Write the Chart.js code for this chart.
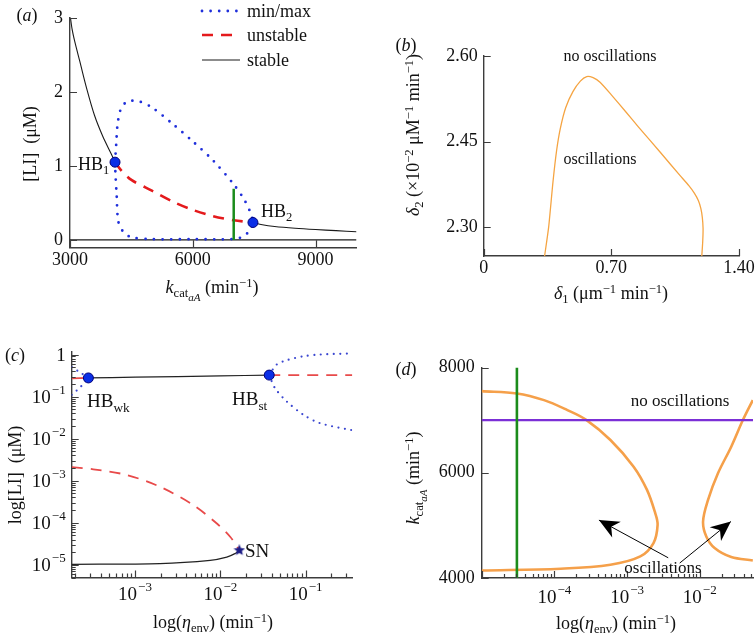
<!DOCTYPE html>
<html><head><meta charset="utf-8">
<script src="https://cdn.jsdelivr.net/npm/chart.js@4.4.1/dist/chart.umd.min.js"></script>
<style>
html,body{margin:0;padding:0;background:#fff;}
#wrap{position:relative;width:756px;height:642px;overflow:hidden;font-family:'Liberation Serif','Times New Roman',serif;color:#111;}
canvas{position:absolute;left:0;top:0;}
.t{position:absolute;white-space:nowrap;transform:translate(-50%,-50%);font-size:18px;line-height:1;}
.l{position:absolute;white-space:nowrap;transform:translate(0,-50%);font-size:18px;line-height:1;}
.r{transform:translate(-50%,-50%) rotate(-90deg);}
sub,sup{font-size:70%;line-height:0;position:relative;vertical-align:baseline;}
sub{top:0.35em;} sup{top:-0.5em;}
sub sub{font-size:88%;top:0.3em;}
</style></head>
<body><div id="wrap">
<canvas id="cA" width="756" height="642"></canvas>
<canvas id="cB" width="756" height="642"></canvas>
<canvas id="cC" width="756" height="642"></canvas>
<canvas id="cD" width="756" height="642"></canvas>

<div class="t" style="left:27px;top:15px">(<i>a</i>)</div>
<div class="t" style="left:406px;top:45px">(<i>b</i>)</div>
<div class="t" style="left:15px;top:355px">(<i>c</i>)</div>
<div class="t" style="left:406px;top:369px">(<i>d</i>)</div>

<div class="t r" style="left:30px;top:144px">[LI]&nbsp; (μM)</div>
<div class="t" style="left:212px;top:287px"><i>k</i><sub>cat<sub><i>aA</i></sub></sub> (min<sup>−1</sup>)</div>
<div class="l" style="left:78px;top:164px">HB<sub>1</sub></div>
<div class="l" style="left:261px;top:211px">HB<sub>2</sub></div>

<div class="t r" style="left:413px;top:135px"><i>δ</i><sub>2</sub> (×10<sup>−2</sup> μM<sup>−1</sup> min<sup>−1</sup>)</div>
<div class="t" style="left:611px;top:293px"><i>δ</i><sub>1</sub> (μm<sup>−1</sup> min<sup>−1</sup>)</div>
<div class="t" style="left:610px;top:56px;font-size:16px">no oscillations</div>
<div class="t" style="left:600px;top:159px;font-size:16px">oscillations</div>

<div class="t r" style="left:15px;top:475px">log[LI]&nbsp; (μM)</div>
<div class="t" style="left:213px;top:622px">log(<i>η</i><sub>env</sub>) (min<sup>−1</sup>)</div>
<div class="l" style="left:87px;top:400px;font-size:19px">HB<sub>wk</sub></div>
<div class="l" style="left:232px;top:398px;font-size:19px">HB<sub>st</sub></div>
<div class="l" style="left:245px;top:550px;font-size:19px">SN</div>

<div class="t r" style="left:413px;top:478px"><i>k</i><sub>cat<sub><i>aA</i></sub></sub> (min<sup>−1</sup>)</div>
<div class="t" style="left:616px;top:623px">log(<i>η</i><sub>env</sub>) (min<sup>−1</sup>)</div>
<div class="t" style="left:680px;top:400px;font-size:17px">no oscillations</div>
<div class="t" style="left:663px;top:567px;font-size:17px">oscillations</div>
</div>
<script>
// ================= DATA =================
// (a) bifurcation in k_cat_aA
const A_X_TICKS = [3000, 6000, 9000];
const A_X_LABELS = ['3000', '6000', '9000'];
const A_Y_TICKS = [0, 1, 2, 3];
const A_Y_LABELS = ['0', '1', '2', '3'];
const A_STABLE_LEFT = [[3000,3.05],[3050,2.85],[3120,2.67],[3240,2.41],[3400,2.06],[3600,1.68],[3800,1.40],[4000,1.17],[4100,1.05]];
const A_STABLE_RIGHT = [[7470,0.235],[7700,0.205],[8000,0.182],[8500,0.158],[9000,0.14],[9500,0.125],[10000,0.11]];
const A_STABLE_LOW = [[3000,0],[10000,0]];
const A_UNSTABLE = [[4100,1.05],[4250,0.94],[4500,0.81],[5000,0.665],[5500,0.52],[6000,0.405],[6500,0.32],[7000,0.265],[7470,0.235]];
const A_MAX = [[4100,1.05],[4130,1.30],[4160,1.55],[4230,1.75],[4350,1.85],[4500,1.88],[4700,1.87],[5000,1.79],[5500,1.57],[6000,1.33],[6500,1.07],[7000,0.75],[7250,0.55],[7400,0.38],[7470,0.24]];
const A_MIN = [[7470,0.24],[7400,0.14],[7250,0.05],[7000,0.012],[6000,0.01],[5000,0.01],[4500,0.035],[4300,0.11],[4180,0.25],[4140,0.6],[4110,0.9],[4100,1.05]];
const A_GREEN = [[7000,0],[7000,0.69]];
const A_HB = [[4100,1.05],[7470,0.235]];

// (b) two-parameter boundary
const B_X_TICKS = [0, 0.70, 1.40];
const B_X_LABELS = ['0', '0.70', '1.40'];
const B_Y_TICKS = [2.30, 2.45, 2.60];
const B_Y_LABELS = ['2.30', '2.45', '2.60'];
const B_CURVE = [[0.334,2.25],[0.356,2.30],[0.380,2.380],[0.400,2.435],[0.420,2.473],[0.450,2.510],[0.490,2.538],[0.530,2.556],[0.565,2.564],[0.600,2.562],[0.638,2.554],[0.70,2.532],[0.78,2.502],[0.848,2.476],[0.967,2.432],[1.076,2.391],[1.125,2.373],[1.155,2.360],[1.177,2.347],[1.191,2.333],[1.199,2.317],[1.203,2.298],[1.201,2.275],[1.196,2.25]];

// (c) bifurcation in eta_env (log-log)
const C_X_EXPS = [-3, -2, -1];
const C_Y_EXPS = [0, -1, -2, -3, -4, -5];
const C_STABLE_UP = [[2.84e-4,0.278],[1e-3,0.29],[1e-2,0.31],[0.0374,0.325]];
const C_UNSTABLE_L = [[1.81e-4,0.27],[2.84e-4,0.278]];
const C_UNSTABLE_R = [[0.0374,0.325],[0.352,0.325]];
const C_MAX_L = [[1.81e-4,0.50],[2.3e-4,0.37],[2.84e-4,0.278]];
const C_MIN_L = [[1.81e-4,0.11],[2.3e-4,0.17],[2.84e-4,0.278]];
const C_MAX_R = [[0.0374,0.325],[0.0457,0.577],[0.0598,0.73],[0.094,0.91],[0.147,1.0],[0.33,1.06],[0.352,1.065]];
const C_MIN_R = [[0.0374,0.325],[0.0436,0.16],[0.0598,0.077],[0.094,0.037],[0.147,0.0234],[0.33,0.0162],[0.352,0.016]];
const C_UNSTABLE_LOW = [[1.81e-4,2.1e-3],[3.24e-4,1.87e-3],[8.0e-4,1.37e-3],[1.96e-3,7.2e-4],[4.83e-3,2.63e-4],[9.1e-3,9.6e-5],[0.0131,4.6e-5],[0.0167,2.22e-5]];
const C_STABLE_LOW = [[1.81e-4,1.03e-5],[1.96e-3,1.07e-5],[7.6e-3,1.28e-5],[0.0119,1.53e-5],[0.0148,1.85e-5],[0.0167,2.22e-5]];
const C_HB = [[2.84e-4,0.278],[0.0374,0.325]];
const C_SN = [[0.0167,2.22e-5]];

// (d) two-parameter plane
const D_X_EXPS = [-4, -3, -2];
const D_Y_TICKS = [4000, 6000, 8000];
const D_Y_LABELS = ['4000', '6000', '8000'];
const D_LEFT = [[1e-5,7551],[3.05e-5,7507],[7.2e-5,7380],[1.51e-4,7190],[2.77e-4,7001],[5.9e-4,6622],[1.23e-3,6116],[1.88e-3,5674],[2.44e-3,5232],[2.63e-3,5010],[2.31e-3,4664],[1.52e-3,4410],[5.9e-4,4252],[1.22e-4,4177],[1e-5,4142]];
const D_RIGHT = [[0.0537,7380],[0.0392,7001],[0.0271,6495],[0.0178,5990],[0.0130,5484],[0.0111,5073],[0.0123,4789],[0.016,4569],[0.0271,4398],[0.0537,4334]];
const D_GREEN = [[3.05e-5,4000],[3.05e-5,8000]];
const D_PURPLE = [[1e-5,7000],[0.054,7000]];
const D_ARROW_L = [[3.68e-3,4384],[4.1e-4,5100]];
const D_ARROW_R = [[5.3e-3,4284],[0.0268,5073]];

// ================= HELPERS =================
const FONT = "'Liberation Serif','Times New Roman',serif";
const AXIS = '#3c3c3c';
const P = a => a.map(([x, y]) => ({x, y}));
function line(data, color, width, extra) {
  return Object.assign({showLine:true, data:P(data), borderColor:color, backgroundColor:color, borderWidth:width,
    pointRadius:0, tension:0, fill:false, borderJoinStyle:'round'}, extra || {});
}
function markers(data, extra) {
  return Object.assign({showLine:false, data:P(data), pointRadius:5, pointBackgroundColor:'#0a2ee6',
    pointBorderColor:'#00007a', pointBorderWidth:1}, extra || {});
}
function logTicks(min, max) {
  const out = [];
  for (let e = Math.floor(Math.log10(min)); e <= Math.ceil(Math.log10(max)); e++) {
    for (let m = 1; m <= 9; m++) {
      const v = m * Math.pow(10, e);
      if (v >= min * 0.999 && v <= max * 1.001) out.push({value:v, minor:m !== 1});
    }
  }
  return out;
}
function linAxis(min, max, vals, labels, pad) {
  return {type:'linear', min, max,
    afterBuildTicks: s => { s.ticks = vals.map(v => ({value:v})); },
    ticks:{autoSkip:false, maxRotation:0, padding:pad, color:'#111', font:{family:FONT, size:18},
      callback:(v, i) => labels[i]}};
}
function logAxis(min, max) {
  return {type:'logarithmic', min, max,
    afterBuildTicks: s => { s.ticks = logTicks(min, max); },
    ticks:{display:false}};
}
function mkOpts(area, xs, ys, plug) {
  return {responsive:false, animation:false, events:[],
    layout:{padding:{left:area[0] - 60, top:area[1], right:756 - area[2], bottom:642 - area[3] - 40}},
    plugins:Object.assign({legend:{display:false}, tooltip:{enabled:false}}, plug || {}),
    scales:{
      x:Object.assign({position:'bottom', afterFit:s => { s.height = 40; }, grid:{display:false, drawTicks:false},
        border:{display:true, color:AXIS, width:1.4}}, xs),
      y:Object.assign({position:'left', afterFit:s => { s.width = 60; }, grid:{display:false, drawTicks:false},
        border:{display:true, color:AXIS, width:1.4}}, ys)}};
}

// inward tick marks
const inTicks = {id:'inTicks', afterDraw(chart) {
  const ctx = chart.ctx; ctx.save(); ctx.strokeStyle = AXIS; ctx.lineWidth = 1.2; ctx.beginPath();
  const sx = chart.scales.x, sy = chart.scales.y;
  for (const t of sx.ticks) {
    const p = sx.getPixelForValue(t.value); if (p < sx.left - 0.5 || p > sx.right + 0.5) continue;
    const L = t.minor ? 4 : 7, x = Math.round(p) + 0.5;
    ctx.moveTo(x, sx.top); ctx.lineTo(x, sx.top - L);
  }
  for (const t of sy.ticks) {
    const p = sy.getPixelForValue(t.value); if (p < sy.top - 0.5 || p > sy.bottom + 0.5) continue;
    const L = t.minor ? 4 : 7, y = Math.round(p) + 0.5;
    ctx.moveTo(sy.right, y); ctx.lineTo(sy.right + L, y);
  }
  ctx.stroke(); ctx.restore();
}};
// power-of-ten labels for log axes
const logLabels = {id:'logLabels', afterDraw(chart, args, opts) {
  const ctx = chart.ctx; ctx.save(); ctx.fillStyle = '#111'; ctx.textAlign = 'left'; ctx.textBaseline = 'alphabetic';
  for (const id of ['x', 'y']) {
    const cfg = opts[id]; if (!cfg) continue;
    const s = chart.scales[id];
    cfg.exps.forEach(e => {
      const p = s.getPixelForValue(Math.pow(10, e));
      const base = e === 0 ? '1' : '10';
      const sup = e === 0 ? '' : '\u2212' + Math.abs(e);
      ctx.font = '19px ' + FONT; const wb = ctx.measureText(base).width;
      ctx.font = '13px ' + FONT; const ws = sup ? ctx.measureText(sup).width + 1 : 0;
      let x0, yb;
      if (id === 'x') { x0 = p - (wb + ws) / 2; yb = s.top + cfg.offset; }
      else { x0 = s.right - cfg.pad - (wb + ws); yb = p + cfg.dy; }
      ctx.font = '19px ' + FONT; ctx.fillText(base, x0, yb);
      if (sup) { ctx.font = '13px ' + FONT; ctx.fillText(sup, x0 + wb + 1, yb - 9); }
    });
  }
  ctx.restore();
}};
// arrow heads at the end of datasets flagged arrow:true
const arrowHeads = {id:'arrowHeads', afterDatasetsDraw(chart) {
  const ctx = chart.ctx;
  chart.data.datasets.forEach((d, i) => {
    if (!d.arrow) return;
    const pts = chart.getDatasetMeta(i).data; const a = pts[pts.length - 2], b = pts[pts.length - 1];
    const ang = Math.atan2(b.y - a.y, b.x - a.x), c = Math.cos(ang), s = Math.sin(ang);
    const L = 20, W = 9;
    ctx.save(); ctx.fillStyle = d.borderColor; ctx.beginPath();
    ctx.moveTo(b.x, b.y);
    ctx.lineTo(b.x - L * c - W * s, b.y - L * s + W * c);
    ctx.lineTo(b.x - 0.7 * L * c, b.y - 0.7 * L * s);
    ctx.lineTo(b.x - L * c + W * s, b.y - L * s - W * c);
    ctx.closePath(); ctx.fill(); ctx.restore();
  });
}};
// legend with line samples (panel a)
const sampleLegend = {id:'sampleLegend', afterDraw(chart, args, opts) {
  if (!opts.items) return;
  const ctx = chart.ctx;
  opts.items.forEach(it => {
    const d = chart.data.datasets[it.ds];
    ctx.save(); ctx.strokeStyle = d.borderColor; ctx.lineWidth = d.borderWidth;
    ctx.setLineDash(d.borderDash || []); ctx.lineCap = d.borderCapStyle || 'butt';
    ctx.beginPath(); ctx.moveTo(opts.x0, it.y); ctx.lineTo(opts.x1, it.y); ctx.stroke();
    ctx.setLineDash([]); ctx.fillStyle = '#111'; ctx.font = '18px ' + FONT; ctx.textBaseline = 'middle';
    ctx.fillText(d.label, opts.tx, it.y + 1); ctx.restore();
  });
}};
Chart.register(inTicks, logLabels, arrowHeads, sampleLegend);

function starImg(size, fill) {
  const c = document.createElement('canvas'); c.width = c.height = size;
  const g = c.getContext('2d'); g.fillStyle = fill; g.beginPath();
  const R = size / 2, r = R * 0.45;
  for (let k = 0; k < 10; k++) {
    const rr = k % 2 ? r : R, an = -Math.PI / 2 + k * Math.PI / 5;
    g.lineTo(R + rr * Math.cos(an), R + rr * Math.sin(an));
  }
  g.closePath(); g.fill(); return c;
}

// ================= CHARTS =================
new Chart(document.getElementById('cA'), {type:'scatter', data:{datasets:[
  markers(A_HB),
  line(A_GREEN, '#1b8c1b', 2.5),
  line(A_UNSTABLE, '#e41a1c', 2.6, {borderDash:[11, 8], tension:0.3, label:'unstable'}),
  line(A_MAX.concat(A_MIN.slice(1)), '#1f2fdb', 2.8, {borderDash:[0, 8.6], borderCapStyle:'round', tension:0.3, label:'min/max'}),
  line(A_STABLE_LEFT, '#1a1a1a', 1.1, {tension:0.3, label:'stable'}),
  line(A_STABLE_RIGHT, '#1a1a1a', 1.1, {tension:0.3}),
  line(A_STABLE_LOW, '#1a1a1a', 1.3)
]}, options:mkOpts([70, 15.7, 356.5, 247.3],
  linAxis(3000, 10000, A_X_TICKS, A_X_LABELS, 2),
  linAxis(-0.1, 3, A_Y_TICKS, A_Y_LABELS, 7),
  {sampleLegend:{x0:202, x1:240, tx:247, items:[{ds:3, y:11}, {ds:2, y:35}, {ds:4, y:60}]}})});

new Chart(document.getElementById('cB'), {type:'scatter', data:{datasets:[
  line(B_CURVE, '#f5a442', 1.3, {tension:0.2})
]}, options:mkOpts([483.7, 56, 739, 256],
  linAxis(0, 1.4, B_X_TICKS, B_X_LABELS, 1),
  linAxis(2.25, 2.60, B_Y_TICKS, B_Y_LABELS, 6))});

new Chart(document.getElementById('cC'), {type:'scatter', data:{datasets:[
  markers(C_SN, {pointStyle:starImg(12, '#1c1c86'), pointRadius:6}),
  markers(C_HB),
  line(C_STABLE_UP, '#222', 1.2, {tension:0.3}),
  line(C_UNSTABLE_L, '#e84a4a', 1.8),
  line(C_UNSTABLE_R, '#e84a4a', 1.8, {borderDash:[11, 8]}),
  line(C_MAX_L, '#3a46d0', 2.2, {borderDash:[0, 6.5], borderCapStyle:'round', tension:0.3}),
  line(C_MIN_L, '#3a46d0', 2.2, {borderDash:[0, 6.5], borderCapStyle:'round', tension:0.3}),
  line(C_MAX_R, '#3a46d0', 2.2, {borderDash:[0, 6.5], borderCapStyle:'round', tension:0.3}),
  line(C_MIN_R, '#3a46d0', 2.2, {borderDash:[0, 6.5], borderCapStyle:'round', tension:0.3}),
  line(C_UNSTABLE_LOW, '#e84a4a', 1.8, {borderDash:[11, 8], tension:0.3}),
  line(C_STABLE_LOW, '#222', 1.2, {tension:0.3})
]}, options:mkOpts([71.7, 352, 352.3, 577.5],
  logAxis(1.81e-4, 0.352), logAxis(5e-6, 1.15),
  {logLabels:{x:{exps:C_X_EXPS, offset:22.5}, y:{exps:C_Y_EXPS, pad:6, dy:6.5}}})});

new Chart(document.getElementById('cD'), {type:'scatter', data:{datasets:[
  line(D_ARROW_L, '#000', 1, {arrow:true}),
  line(D_ARROW_R, '#000', 1, {arrow:true}),
  line(D_GREEN, '#1b8c1b', 2.6),
  line(D_PURPLE, '#7b2fd6', 2.2),
  line(D_LEFT, '#f5a04a', 2.6, {tension:0.35}),
  line(D_RIGHT, '#f5a04a', 2.6, {tension:0.35})
]}, options:mkOpts([481.7, 367.5, 753, 578],
  logAxis(1e-5, 0.054),
  linAxis(4000, 8000, D_Y_TICKS, D_Y_LABELS, 7),
  {logLabels:{x:{exps:D_X_EXPS, offset:25}}})});
</script>
</body></html>
